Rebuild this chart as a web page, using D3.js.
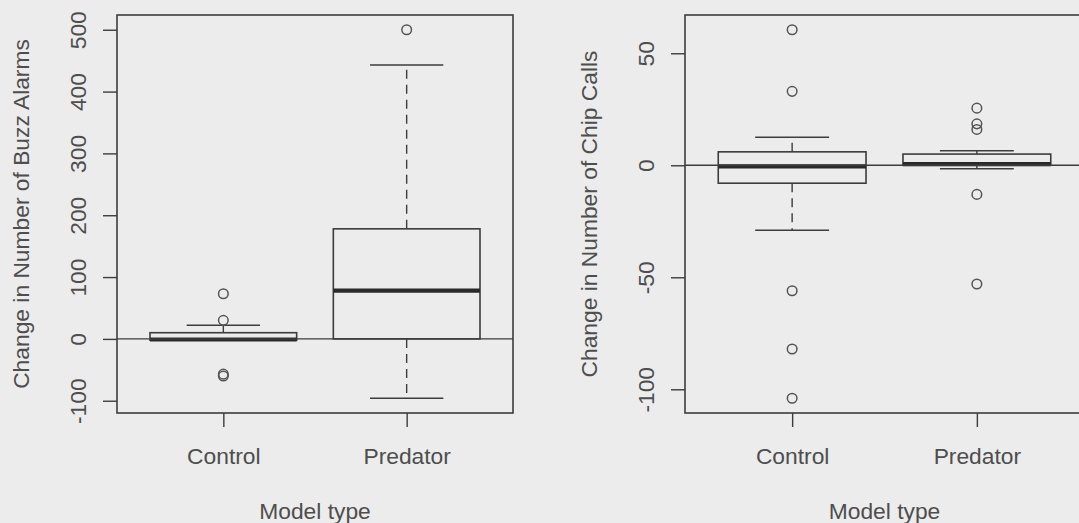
<!DOCTYPE html>
<html>
<head>
<meta charset="utf-8">
<script src="https://cdn.jsdelivr.net/npm/d3@7"></script>
<style>
  html, body { margin: 0; padding: 0; background: #ececec; }
  svg { display: block; }
  text { font-family: "Liberation Sans", Arial, Helvetica, sans-serif; }
</style>
</head>
<body>
<svg id="chart" width="1079" height="523"></svg>
<script>
// ---------------- data ----------------
const categories = ["Control", "Predator"];

// Change in Number of Buzz Alarms
const buzzLowerWhisker = [-2, -96];
const buzzQ1           = [-2, 0];
const buzzMedian       = [-1, 78];
const buzzQ3           = [10, 178];
const buzzUpperWhisker = [22, 443];
const buzzOutliers     = [[73, 30, -57, -60], [500]];
const buzzTicks        = [-100, 0, 100, 200, 300, 400, 500];

// Change in Number of Chip Calls
const chipLowerWhisker = [-29, -1.5];
const chipQ1           = [-8, 0];
const chipMedian       = [-0.5, 0.5];
const chipQ3           = [6, 5];
const chipUpperWhisker = [12.5, 6.5];
const chipOutliers     = [[60.5, 33, -56, -82, -104], [25.5, 18.5, 16, -13, -53]];
const chipTicks        = [-100, -50, 0, 50];

const xTitle = "Model type";
const buzzTitle = "Change in Number of Buzz Alarms";
const chipTitle = "Change in Number of Chip Calls";

// ---------------- layout ----------------
const svg = d3.select("#chart");
const lineCol = "#3c3c3c";
const textCol = "#4e4e4e";
const fontSize = 22.8;

const panels = [
  { left: 117, right: 513, top: 15, bottom: 413, tickOff: 31, titleOff: 88,
    title: buzzTitle, ticks: buzzTicks,
    lw: buzzLowerWhisker, q1: buzzQ1, med: buzzMedian, q3: buzzQ3, uw: buzzUpperWhisker, out: buzzOutliers },
  { left: 685, right: 1084, top: 15, bottom: 413, tickOff: 31, titleOff: 88,
    title: chipTitle, ticks: chipTicks,
    lw: chipLowerWhisker, q1: chipQ1, med: chipMedian, q3: chipQ3, uw: chipUpperWhisker, out: chipOutliers }
];

panels.forEach((p, pi) => {
  const all = [].concat(p.lw, p.uw, p.q1, p.q3, ...p.out);
  const lo = d3.min(all), hi = d3.max(all);
  const ext = 0.04 * (hi - lo);
  const y = d3.scaleLinear().domain([lo - ext, hi + ext]).range([p.bottom, p.top]);
  const n = categories.length;
  const x = d3.scaleLinear().domain([0.5 - 0.04 * n, n + 0.5 + 0.04 * n]).range([p.left, p.right]);
  const bw = 0.4, sw = 0.2;

  const clipId = "clip" + pi;
  svg.append("clipPath").attr("id", clipId)
    .append("rect").attr("x", p.left).attr("y", p.top)
    .attr("width", p.right - p.left).attr("height", p.bottom - p.top);

  const g = svg.append("g");
  const plot = g.append("g").attr("clip-path", `url(#${clipId})`);

  categories.forEach((c, i) => {
    const cx = x(i + 1);
    // whiskers (dashed)
    plot.append("line").attr("x1", cx).attr("x2", cx)
      .attr("y1", y(p.q3[i])).attr("y2", y(p.uw[i]))
      .attr("stroke", lineCol).attr("stroke-width", 1.4).attr("stroke-dasharray", "9,6");
    plot.append("line").attr("x1", cx).attr("x2", cx)
      .attr("y1", y(p.q1[i])).attr("y2", y(p.lw[i]))
      .attr("stroke", lineCol).attr("stroke-width", 1.4).attr("stroke-dasharray", "9,6");
    // staples
    [p.uw[i], p.lw[i]].forEach(v => {
      plot.append("line").attr("x1", x(i + 1 - sw)).attr("x2", x(i + 1 + sw))
        .attr("y1", y(v)).attr("y2", y(v))
        .attr("stroke", lineCol).attr("stroke-width", 1.5);
    });
    // box
    plot.append("rect")
      .attr("x", x(i + 1 - bw)).attr("width", x(i + 1 + bw) - x(i + 1 - bw))
      .attr("y", y(p.q3[i])).attr("height", Math.max(0.5, y(p.q1[i]) - y(p.q3[i])))
      .attr("fill", "none").attr("stroke", lineCol).attr("stroke-width", 1.6);
    // median
    plot.append("line").attr("x1", x(i + 1 - bw)).attr("x2", x(i + 1 + bw))
      .attr("y1", y(p.med[i])).attr("y2", y(p.med[i]))
      .attr("stroke", "#2a2a2a").attr("stroke-width", 4.2);
    // outliers
    p.out[i].forEach(v => {
      plot.append("circle").attr("cx", cx).attr("cy", y(v)).attr("r", 4.8)
        .attr("fill", "none").attr("stroke", "#555").attr("stroke-width", 1.5);
    });
  });

  // abline h = 0
  plot.append("line").attr("x1", p.left).attr("x2", p.right)
    .attr("y1", y(0)).attr("y2", y(0))
    .attr("stroke", lineCol).attr("stroke-width", 1.3);

  // frame
  g.append("rect").attr("x", p.left).attr("y", p.top)
    .attr("width", p.right - p.left).attr("height", p.bottom - p.top)
    .attr("fill", "none").attr("stroke", lineCol).attr("stroke-width", 1.6);

  // y axis
  const ya = g.append("g").attr("transform", `translate(${p.left},0)`)
    .call(d3.axisLeft(y).tickValues(p.ticks).tickSize(14).tickFormat(d3.format("d")));
  ya.select(".domain").remove();
  ya.selectAll(".tick line").attr("stroke", lineCol).attr("stroke-width", 1.4);
  ya.selectAll(".tick text")
    .attr("transform", "rotate(-90)")
    .attr("x", 0).attr("y", -p.tickOff).attr("dy", null)
    .attr("text-anchor", "middle")
    .attr("fill", textCol).style("font-size", fontSize + "px")
    .text(d => (d < 0 ? "-" + Math.abs(d) : d));

  // x axis
  const xa = g.append("g").attr("transform", `translate(0,${p.bottom})`)
    .call(d3.axisBottom(x).tickValues(d3.range(1, n + 1)).tickSize(14)
      .tickFormat(d => categories[d - 1]));
  xa.select(".domain").remove();
  xa.selectAll(".tick line").attr("stroke", lineCol).attr("stroke-width", 1.4);
  xa.selectAll(".tick text")
    .attr("y", 51).attr("dy", null)
    .attr("fill", textCol).style("font-size", fontSize + "px");

  // titles
  g.append("text")
    .attr("transform", `translate(${p.left - p.titleOff},${(p.top + p.bottom) / 2}) rotate(-90)`)
    .attr("text-anchor", "middle").attr("fill", textCol)
    .style("font-size", fontSize + "px").text(p.title);
  g.append("text")
    .attr("x", (p.left + p.right) / 2).attr("y", p.bottom + 106)
    .attr("text-anchor", "middle").attr("fill", textCol)
    .style("font-size", fontSize + "px").text(xTitle);
});
</script>
</body>
</html>
